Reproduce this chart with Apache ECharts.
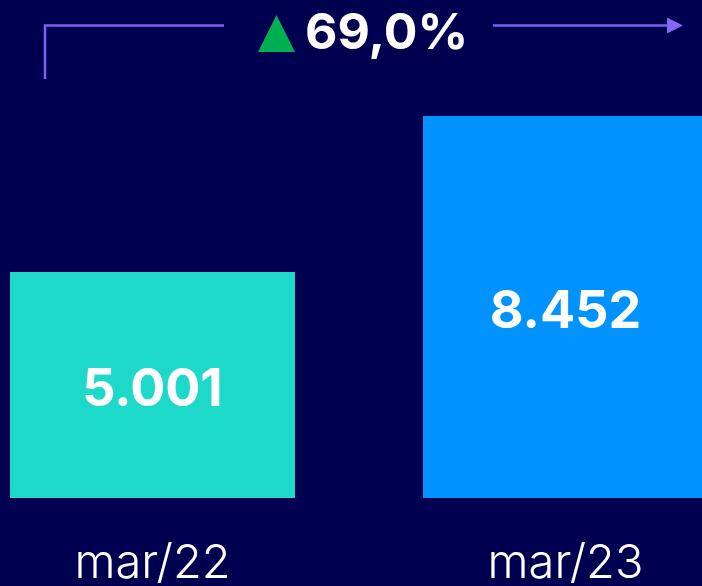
<!DOCTYPE html>
<html>
<head>
<meta charset="utf-8">
<script src="https://cdn.jsdelivr.net/npm/echarts@6/dist/echarts.min.js"></script>
<style>
  html, body { margin: 0; padding: 0; background: #000050; }
  #chart { width: 702px; height: 586px; }
</style>
</head>
<body>
<div id="chart"></div>
<script>
const categories = ['mar/22', 'mar/23']
const values = [5001, 8452]
const barColors = ['#1DD9C9', '#0093FF']

// pt-BR style thousands: 5001 -> 5.001
const fmt = v => String(v).replace(/\B(?=(\d{3})+(?!\d))/g, '.')
const growth = (values[1] - values[0]) / values[0] * 100
const growthText = growth.toFixed(1).replace('.', ',') + '%'

const chart = echarts.init(document.getElementById('chart'))
const lineColor = '#7D60EC'

const option = {
  backgroundColor: '#000050',
  animation: false,
  grid: { left: -54, right: -70, top: 1, bottom: 88, outerBoundsMode: 'none', containLabel: false },
  xAxis: {
    type: 'category',
    data: categories,
    axisLine: { show: false },
    axisTick: { show: false },
    axisLabel: {
      color: '#ffffff',
      fontFamily: 'Inter',
      fontWeight: 300,
      fontSize: 47,
      margin: 42
    }
  },
  yAxis: {
    type: 'value',
    min: 0,
    max: 11000,
    show: false,
    splitLine: { show: false }
  },
  series: [{
    type: 'bar',
    barWidth: 285,
    data: values.map((v, i) => ({ value: v, itemStyle: { color: barColors[i] } })),
    label: {
      show: true,
      position: 'inside',
      offset: [0, 5],
      color: '#ffffff',
      fontFamily: 'Inter',
      fontWeight: 'bold',
      fontSize: 52,
      formatter: p => fmt(p.value)
    }
  }],
  graphic: [
    {
      type: 'polyline',
      shape: { points: [[45, 79], [45, 25.5], [224, 25.5]] },
      style: { stroke: lineColor, lineWidth: 2.5, fill: null }
    },
    {
      type: 'line',
      shape: { x1: 493, y1: 25.5, x2: 668, y2: 25.5 },
      style: { stroke: lineColor, lineWidth: 2.5 }
    },
    {
      type: 'polygon',
      shape: { points: [[667, 17.5], [683, 25.5], [667, 33.5]] },
      style: { fill: '#8468F2' }
    },
    {
      type: 'polygon',
      shape: { points: [[258, 52], [276.5, 15], [295, 52]] },
      style: { fill: '#00B050' }
    },
    {
      type: 'text',
      left: 305,
      top: 9,
      style: {
        text: growthText,
        fill: '#ffffff',
        font: 'bold 50px Inter'
      }
    }
  ]
}
chart.setOption(option)
</script>
</body>
</html>
